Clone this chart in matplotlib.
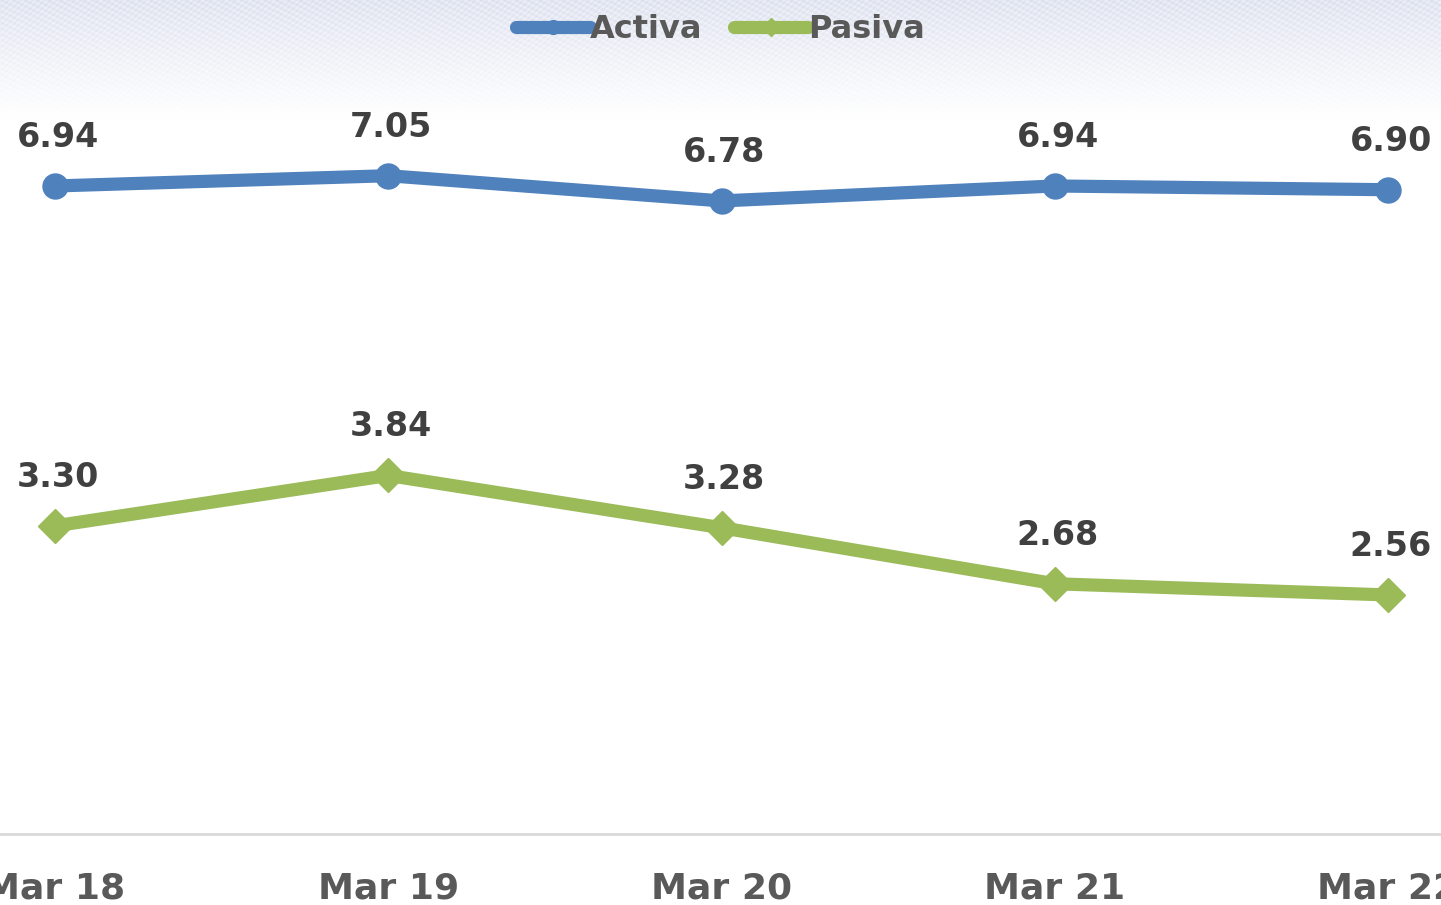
import numpy as np
import matplotlib
matplotlib.use("Agg")
from matplotlib import pyplot as plt

## datos de la gráfica
periodos = ["Mar 18", "Mar 19", "Mar 20", "Mar 21", "Mar 22"]
activa = [6.94, 7.05, 6.78, 6.94, 6.90]
pasiva = [3.30, 3.84, 3.28, 2.68, 2.56]

plt.rcParams['font.family'] = ['DejaVu Sans']

fig = plt.figure(figsize=(14.41, 9.05), dpi=100)

## fondo con textura suave en la parte superior
bg = fig.add_axes([0, 0, 1, 1], zorder=0)
bg.set_axis_off()
h, w = 905, 1441
yy, xx = np.mgrid[0:h, 0:w]
fade = np.clip(1 - yy / 120.0, 0, 1) ** 1.1
tex = 0.5 + 0.5 * np.sin(xx * 0.8) * np.sin(yy * 1.1 + xx * 0.25)
shade = fade * (0.45 + 0.55 * tex)
base = np.array([1.0, 1.0, 1.0])
tint = np.array([0.85, 0.87, 0.93])
img = base[None, None, :] * (1 - shade[..., None]) + tint[None, None, :] * shade[..., None]
bg.imshow(img, aspect="auto", extent=[0, 1, 0, 1], origin="upper")
bg.set_xlim(0, 1)
bg.set_ylim(0, 1)

## área del gráfico
ax = fig.add_axes([0, 71 / 905, 1, 747 / 905], zorder=1)
ax.patch.set_alpha(0)
x = np.arange(len(periodos))

azul = "#4F81BD"
verde = "#9BBB59"
ax.plot(x, activa, color=azul, lw=9.5, marker="o", ms=18, label="Activa",
        solid_capstyle="round", clip_on=False)
ax.plot(x, pasiva, color=verde, lw=9.5, marker="D", ms=17, label="Pasiva",
        solid_capstyle="round", clip_on=False)

for serie in (activa, pasiva):
    for xi, v in zip(x, serie):
        ax.annotate(f"{v:.2f}", (xi, v), xytext=(2, 35), textcoords="offset points",
                    ha="center", va="center", fontsize=24, fontweight="bold",
                    color="#404040")

ax.set_xlim(-55 / 333.25, (1441 - 55) / 333.25)
ax.set_ylim(0, 8)
ax.set_xticks(x)
ax.set_xticklabels(periodos, fontsize=26, fontweight="bold", color="#595959")
ax.tick_params(axis="x", length=0, pad=27)
ax.set_yticks([])
for s in ["top", "left", "right"]:
    ax.spines[s].set_visible(False)
ax.spines["bottom"].set_color("#D9D9D9")
ax.spines["bottom"].set_linewidth(2)

leg = fig.legend(loc="upper center", bbox_to_anchor=(0.5, 1.016), ncol=2,
                 frameon=False, handlelength=2.3, markerscale=0.55,
                 handletextpad=0.0, columnspacing=1.0, labelcolor="#595959",
                 prop={"weight": "bold", "size": 23})

fig.savefig("out.png", dpi=100)
